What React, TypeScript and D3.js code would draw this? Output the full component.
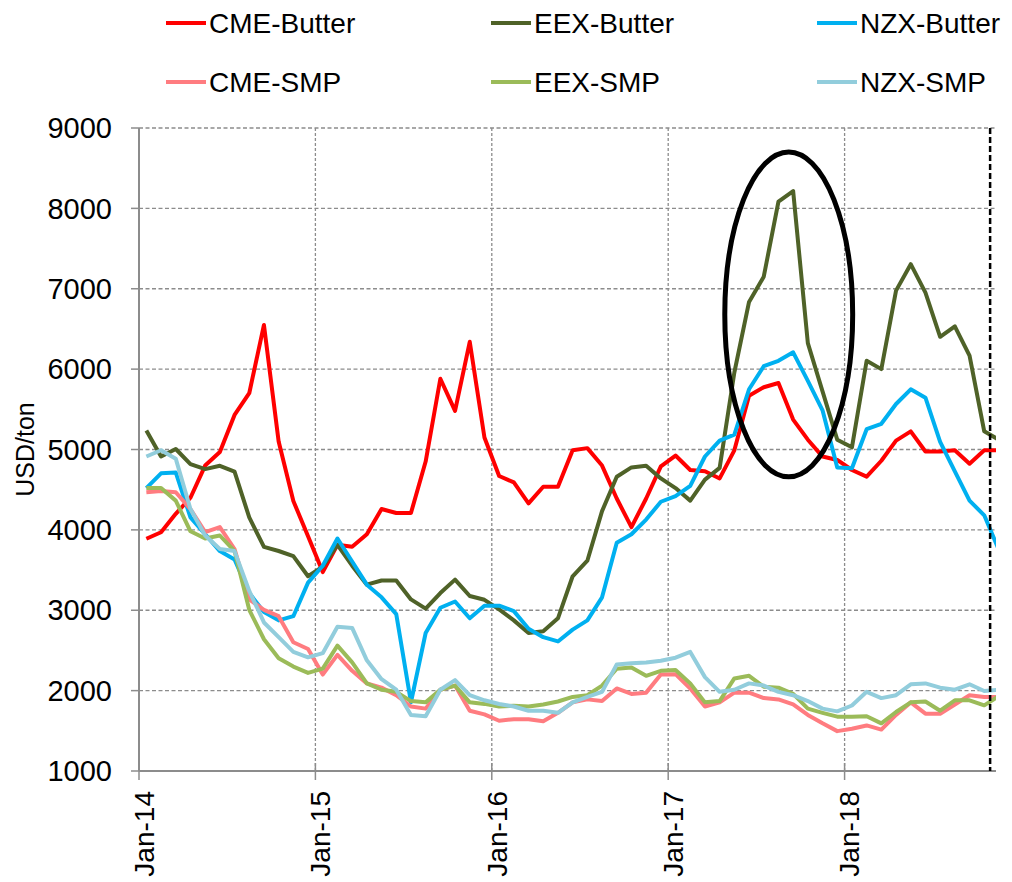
import React from 'react';
import * as d3 from 'd3';

// monthly prices, Jan-14 .. Nov-18 (USD/ton)
const cmeButter = [3890, 3970, 4200, 4400, 4800, 4970, 5430, 5700, 6550, 5100, 4360, 3920,
  3475, 3815, 3790, 3945, 4260, 4210, 4210, 4850, 5880, 5480, 6340, 5150,
  4670, 4590, 4330, 4536, 4536, 4990, 5017, 4800, 4390, 4034, 4390, 4790,
  4925, 4745, 4730, 4640, 4990, 5670, 5775, 5827, 5372, 5122, 4912, 4870,
  4745, 4662, 4860, 5111, 5226, 4975, 4975, 4990, 4824, 4990, 4990];
const eexButter = [5237, 4913, 5006, 4818, 4756, 4797, 4724, 4155, 3789, 3737, 3674, 3423,
  3543, 3815, 3554, 3318, 3370, 3370, 3135, 3020, 3214, 3381, 3177, 3130,
  3010, 2874, 2717, 2740, 2900, 3423, 3616, 4233, 4661, 4777, 4797, 4640,
  4520, 4364, 4625, 4771, 5958, 6836, 7150, 8085, 8216, 6324, 5723, 5122,
  5027, 6104, 6000, 6977, 7306, 6951, 6402, 6533, 6167, 5226, 5120];
const nzxButter = [4520, 4703, 4714, 4155, 3946, 3736, 3632, 3214, 2978, 2874, 2926, 3344,
  3553, 3893, 3606, 3318, 3161, 2952, 1855, 2717, 3031, 3109, 2900, 3057,
  3057, 2989, 2769, 2665, 2612, 2759, 2874, 3161, 3841, 3946, 4128, 4350,
  4420, 4547, 4913, 5111, 5184, 5749, 6036, 6104, 6209, 5853, 5487, 4775,
  4766, 5252, 5320, 5566, 5749, 5644, 5095, 4729, 4364, 4181, 3750];
const cmeSmp = [4468, 4484, 4468, 4259, 3972, 4034, 3762, 3135, 3005, 2926, 2602, 2518,
  2200, 2445, 2247, 2090, 2037, 1943, 1802, 1776, 2011, 2063, 1750, 1705,
  1625, 1645, 1645, 1619, 1724, 1854, 1891, 1870, 2027, 1959, 1975, 2200,
  2205, 2027, 1802, 1854, 1975, 1975, 1907, 1891, 1828, 1698, 1593, 1496,
  1525, 1567, 1515, 1698, 1854, 1713, 1713, 1828, 1943, 1922, 1922];
const eexSmp = [4520, 4520, 4364, 3982, 3893, 3930, 3736, 3005, 2639, 2403, 2299, 2220,
  2273, 2560, 2351, 2090, 2011, 1985, 1870, 1854, 2011, 2063, 1854, 1835,
  1802, 1812, 1802, 1828, 1865, 1922, 1943, 2063, 2273, 2288, 2184, 2247,
  2257, 2090, 1854, 1870, 2152, 2184, 2048, 2037, 1959, 1776, 1724, 1676,
  1676, 1682, 1593, 1734, 1854, 1865, 1750, 1880, 1880, 1817, 1933];
const nzxSmp = [4913, 4991, 4886, 4259, 3930, 3762, 3736, 3240, 2848, 2665, 2482, 2414,
  2466, 2795, 2780, 2377, 2142, 2011, 1698, 1682, 2011, 2131, 1943, 1880,
  1833, 1802, 1750, 1750, 1724, 1854, 1922, 1985, 2325, 2340, 2351, 2372,
  2410, 2482, 2168, 1985, 2011, 2090, 2063, 1985, 1943, 1870, 1776, 1742,
  1815, 1985, 1907, 1943, 2079, 2090, 2037, 2011, 2079, 1995, 2011];

const seriesNames = ['CME-Butter', 'EEX-Butter', 'NZX-Butter', 'CME-SMP', 'EEX-SMP', 'NZX-SMP'];
const seriesValues = [cmeButter, eexButter, nzxButter, cmeSmp, eexSmp, nzxSmp];
const seriesColors = ['#ff0000', '#4f6228', '#00b0f0', '#ff7c80', '#9bbb59', '#92cddc'];

const yTicks = [1000, 2000, 3000, 4000, 5000, 6000, 7000, 8000, 9000];
const xTickMonths = [0, 12, 24, 36, 48];
const xTickLabels = ['Jan-14', 'Jan-15', 'Jan-16', 'Jan-17', 'Jan-18'];
const lastMarkMonth = 57.9;
// highlight ellipse (month index, value)
const ellipseCenter = [44.2, 6680];
const ellipseRadius = [4.35, 2020];

const W = 1012;
const H = 882;
const FONT = '"Liberation Sans", Arial, sans-serif';

export default function App() {
  const x = d3.scaleLinear().domain([0, 58.3]).range([139, 996]);
  const y = d3.scaleLinear().domain([1000, 9000]).range([771, 128]);
  const [x0, x1] = x.range();
  const [y0, y1] = y.range();

  const line = d3.line<number>()
    .x((_, i) => x(i + 0.5))
    .y(d => y(d));

  const legendCols = [166, 491, 817];
  const legendRows = [23, 82];

  return (
    <svg width={W} height={H} style={{ position: 'absolute', left: 0, top: 0, background: '#fff' }}
      fontFamily={FONT}>
      <defs>
        <clipPath id="plot">
          <rect x={x0} y={y1 - 5} width={x1 - x0} height={y0 - y1 + 10} />
        </clipPath>
      </defs>

      {/* grid */}
      {yTicks.slice(1).map(t => (
        <line key={'gy' + t} x1={x0} x2={x1} y1={y(t)} y2={y(t)}
          stroke="#8c8c8c" strokeWidth={1.3} strokeDasharray="4,2.5" />
      ))}
      {xTickMonths.slice(1).map(m => (
        <line key={'gx' + m} x1={x(m)} x2={x(m)} y1={y1} y2={y0}
          stroke="#8c8c8c" strokeWidth={1.3} strokeDasharray="3,2" />
      ))}

      {/* axes */}
      <line x1={x0} x2={x0} y1={y1} y2={y0} stroke="#8c8c8c" strokeWidth={2} />
      <line x1={x0} x2={x1} y1={y0} y2={y0} stroke="#8c8c8c" strokeWidth={2} />
      {yTicks.map(t => (
        <g key={'ty' + t}>
          <line x1={x0 - 8} x2={x0} y1={y(t)} y2={y(t)} stroke="#8c8c8c" strokeWidth={1.5} />
          <text x={112} y={y(t)} dy="0.35em" textAnchor="end" fontSize={29} fill="#000">{t}</text>
        </g>
      ))}
      {xTickMonths.map((m, i) => (
        <g key={'tx' + m}>
          <line x1={x(m)} x2={x(m)} y1={y0 - 8} y2={y0 + 9} stroke="#8c8c8c" strokeWidth={1.5} />
          <text transform={`translate(${x(m) + 5},${y0 + 20}) rotate(-90)`} dy="0.35em"
            textAnchor="end" fontSize={28} fill="#000">{xTickLabels[i]}</text>
        </g>
      ))}
      <text transform={`translate(25,${(y0 + y1) / 2}) rotate(-90)`} dy="0.35em"
        textAnchor="middle" fontSize={25} fill="#000">USD/ton</text>

      {/* series */}
      <g clipPath="url(#plot)">
        {seriesValues.map((vals, i) => (
          <path key={seriesNames[i]} d={line(vals) || ''} fill="none"
            stroke={seriesColors[i]} strokeWidth={4} strokeLinejoin="round" />
        ))}
      </g>

      {/* latest marker */}
      <line x1={x(lastMarkMonth)} x2={x(lastMarkMonth)} y1={y1} y2={y0}
        stroke="#000" strokeWidth={2.5} strokeDasharray="6,3" />

      {/* highlight */}
      <ellipse cx={x(ellipseCenter[0])} cy={y(ellipseCenter[1])}
        rx={x(ellipseRadius[0]) - x(0)} ry={y(1000) - y(1000 + ellipseRadius[1])}
        fill="none" stroke="#000" strokeWidth={5} />

      {/* legend */}
      {seriesNames.map((name, i) => {
        const lx = legendCols[i % 3];
        const ly = legendRows[Math.floor(i / 3)];
        return (
          <g key={'lg' + name}>
            <line x1={lx} x2={lx + 40} y1={ly} y2={ly} stroke={seriesColors[i]} strokeWidth={4} />
            <text x={lx + 43} y={ly} dy="0.35em" fontSize={28} fill="#000">{name}</text>
          </g>
        );
      })}
    </svg>
  );
}
